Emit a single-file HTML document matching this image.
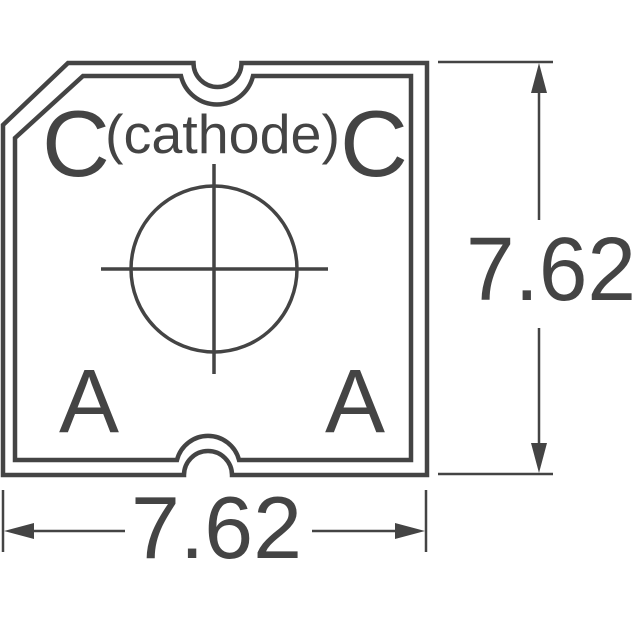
<!DOCTYPE html>
<html><head><meta charset="utf-8"><style>html,body{margin:0;padding:0;background:#fff}svg{display:block}</style></head>
<body>
<svg width="640" height="640" viewBox="0 0 640 640" xmlns="http://www.w3.org/2000/svg">
<g fill="none" stroke="#444" stroke-width="4.5" stroke-linejoin="miter">
<!-- outer outline -->
<path d="M3,125 L68,63 L193.5,63 A24,24 0 0 0 241.5,63 L427,63 L427,475 L232,475 A24,24 0 0 0 184,475 L3,475 Z"/>
<!-- inner outline -->
<path d="M15,138 L83,76 L181,76 A37,37 0 0 0 253,76 L411,76 L411,460 L239,460 A32,32 0 0 0 177,460 L15,460 Z"/>
<!-- circle and crosshair -->
<circle cx="214" cy="269" r="83" stroke-width="3.5"/>
<line x1="101" y1="269" x2="328" y2="269" stroke-width="3.5"/>
<line x1="214" y1="164" x2="214" y2="374" stroke-width="3.5"/>
</g>
<g stroke="#444" stroke-width="2.5" fill="none">
<!-- right dimension -->
<line x1="438" y1="62" x2="553" y2="62"/>
<line x1="438" y1="474" x2="553" y2="474"/>
<line x1="539" y1="85" x2="539" y2="220"/>
<line x1="539" y1="328" x2="539" y2="452"/>
<!-- bottom dimension -->
<line x1="3" y1="490" x2="3" y2="552"/>
<line x1="426" y1="490" x2="426" y2="552"/>
<line x1="25" y1="531" x2="125" y2="531"/>
<line x1="312" y1="531" x2="405" y2="531"/>
</g>
<g fill="#444">
<polygon points="539,63 531,93 547,93"/>
<polygon points="539,473 531,443 547,443"/>
<polygon points="4,531 34,523 34,539"/>
<polygon points="425,531 395,523 395,539"/>
</g>
<g fill="#444" font-family="Liberation Sans, Arial, sans-serif">
<text x="42" y="176" font-size="94">C</text>
<text x="105" y="153" font-size="55" textLength="235" lengthAdjust="spacingAndGlyphs">(cathode)</text>
<text x="340" y="176" font-size="94">C</text>
<text x="59" y="432" font-size="90">A</text>
<text x="325" y="432" font-size="90">A</text>
<text x="131" y="558" font-size="88" textLength="171" lengthAdjust="spacingAndGlyphs">7.62</text>
<text x="466" y="300" font-size="90" textLength="170" lengthAdjust="spacingAndGlyphs">7.62</text>
</g>
</svg>
</body></html>
